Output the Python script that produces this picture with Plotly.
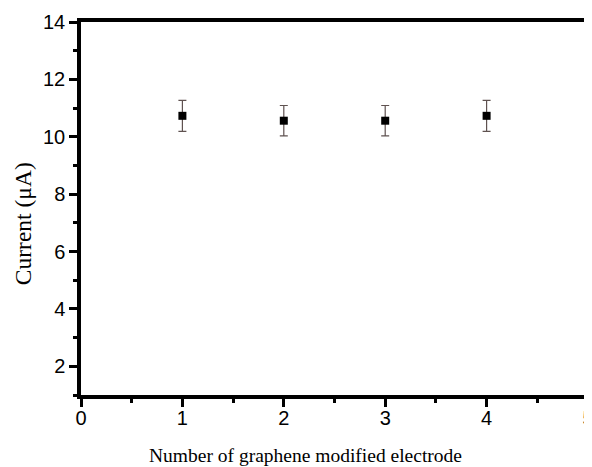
import plotly.graph_objects as go

electrodes = [1, 2, 3, 4]
current = [10.73, 10.56, 10.56, 10.73]
errors = [0.54, 0.53, 0.53, 0.54]
x_ticks = [0, 1, 2, 3, 4, 5]
y_ticks = [2, 4, 6, 8, 10, 12, 14]

fig = go.Figure()
fig.add_trace(go.Scatter(
    x=electrodes, y=current, mode="markers",
    marker=dict(symbol="square", size=8, color="black"),
    error_y=dict(type="data", array=errors, visible=True, color="#5f5250", thickness=1.2, width=4),
    showlegend=False, cliponaxis=False,
))

axis_common = dict(
    showline=True, linewidth=3.5, linecolor="black", mirror=True,
    ticks="outside", ticklen=8, tickwidth=3, tickcolor="black",
    showgrid=False, zeroline=False, automargin=False,
    tickfont=dict(family="Liberation Sans, Arial", size=20, color="black"),
)

fig.update_xaxes(
    range=[0, 5], tickvals=x_ticks, ticklabelstandoff=-6, ticklabeloverflow="allow",
    minor=dict(dtick=0.5, ticklen=4, tickwidth=3, tickcolor="black", ticks="outside"),
    **axis_common,
)
fig.update_yaxes(
    range=[1, 14], tickvals=y_ticks,
    minor=dict(dtick=1, ticklen=4, tickwidth=3, tickcolor="black", ticks="outside"),
    **axis_common,
)

fig.add_annotation(
    text="Number of graphene modified electrode", xref="paper", yref="paper",
    x=0.442, y=0, yshift=-60, xanchor="center", yanchor="middle",
    showarrow=False,
    font=dict(family="Liberation Serif, Times New Roman", size=19.5, color="black"),
)
fig.add_annotation(
    text="Current (μA)", xref="paper", yref="paper",
    x=0, xshift=-58, y=0.458, xanchor="center", yanchor="middle",
    textangle=-90, showarrow=False,
    font=dict(family="Liberation Serif, Times New Roman", size=23.5, color="black"),
)

fig.update_layout(
    width=584, height=459,
    margin=dict(l=73, r=4, t=14, b=72),
    plot_bgcolor="white", paper_bgcolor="white",
)

fig.write_html("out.html")
